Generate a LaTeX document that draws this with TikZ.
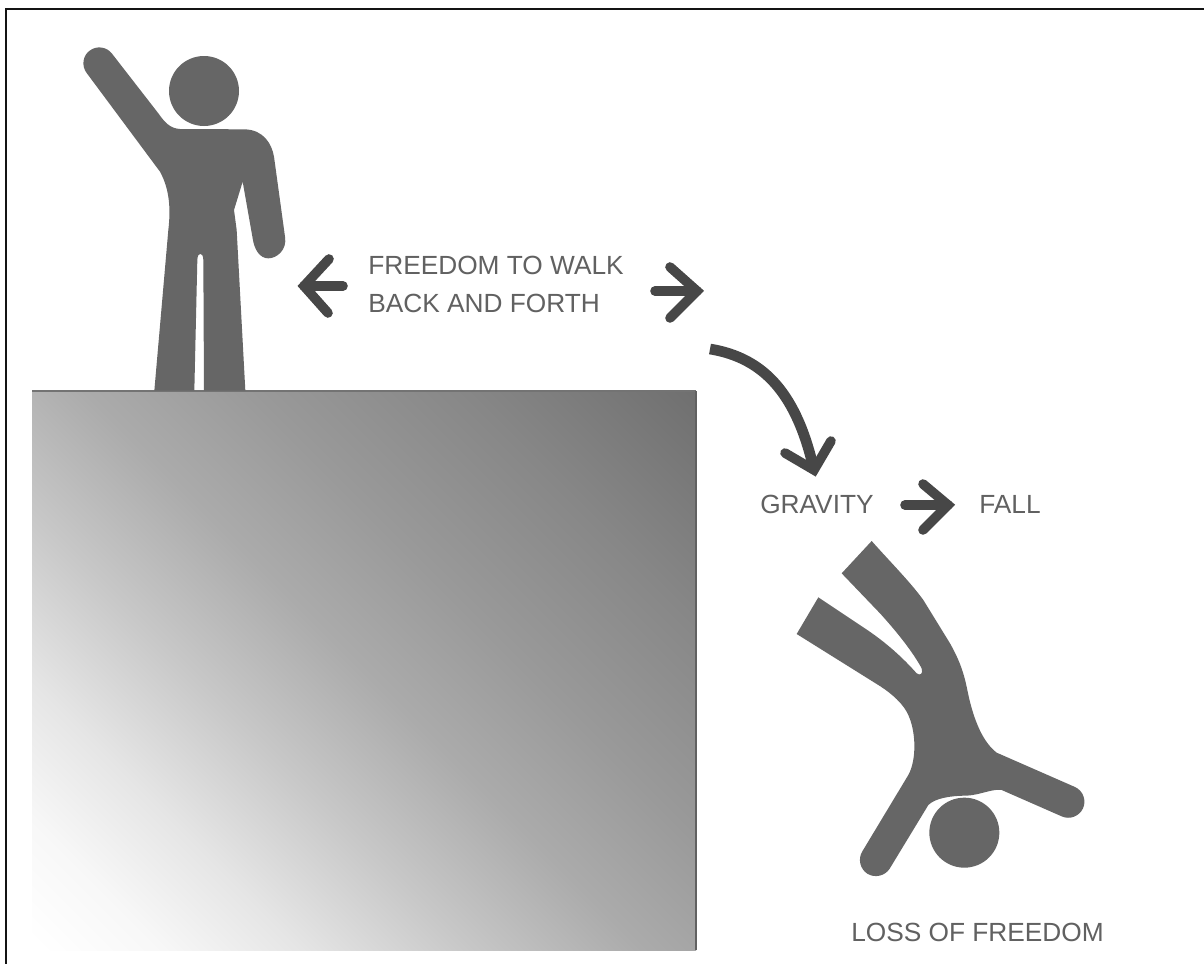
\documentclass[tikz,border=0pt]{standalone}
\usepackage{fontspec}
\setmainfont{Liberation Sans}
\definecolor{figgray}{gray}{0.40}
\definecolor{arrgray}{gray}{0.28}
\definecolor{txtgray}{gray}{0.38}
\pgfdeclareverticalshading{blockfade}{100bp}{
 color(0bp)=(white);
 color(15bp)=(white);
 color(22bp)=(black!3);
 color(30bp)=(black!10);
 color(40bp)=(black!22);
 color(50bp)=(black!33);
 color(60bp)=(black!40);
 color(72bp)=(black!47);
 color(85bp)=(black!56);
 color(100bp)=(black!56)}
\tikzset{
 figshape/.style={fill=figgray,draw=none},
 headdisc/.style={circle,fill=figgray,draw=none,minimum size=52.5pt,inner sep=0pt},
 arrstroke/.style={draw=arrgray,line width=7.2pt,line cap=round,line join=miter},
 labeltext/.style={text=txtgray,font=\fontsize{19.7pt}{24pt}\selectfont,anchor=base west,inner sep=0pt},
 pxgrid/.style={x=0.75pt,y=-0.75pt},
}
\begin{document}
\begin{tikzpicture}[pxgrid]
\useasboundingbox (0,0) rectangle (1204,964);
\fill[white] (0,0) rectangle (1204,964);
% frame: left and top edges only
\draw[black!92,line width=2.1pt] (6,964)--(6,9)--(1204,9);
% block
\shade[shading=blockfade,shading angle=-45] (32,391) rectangle (696,950);
\draw[black!55,line width=1pt] (32,391)--(696,391);
\draw[black!62,line width=1.6pt] (696,391)--(696,950);
% standing figure
\begin{scope}[shift={(60,30)},x=0.25pt,y=-0.25pt]
\node[headdisc] (headA) at (432,183) {};
\fill[figshape] (156,71) -- (295,250) .. controls (315,278) and (330,295) .. (360,297)
 -- (555,298) .. controls (610,300) and (635,340) .. (642,380)
 -- (675,620) .. controls (682,660) and (650,685) .. (625,685)
 .. controls (600,685) and (583,660) .. (578,625)
 -- (548,455) -- (522,540) -- (530,600) -- (556,1082) -- (432,1082) -- (430,690)
 .. controls (430,665) and (412,665) .. (412,690)
 -- (403,1082) -- (283,1082) -- (325,600) .. controls (332,540) and (330,480) .. (300,425)
 -- (80,129) .. controls (64,108) and (68,77) .. (89,62)
 .. controls (110,46) and (140,50) .. (156,71) -- cycle;
\end{scope}
% falling figure
\begin{scope}[shift={(780,530)},x=0.25pt,y=-0.25pt]
\node[headdisc] (headB) at (553,908) {};
\fill[figshape] (275,33) .. controls (330,95) and (390,155) .. (430,210)
 -- (510,340) .. controls (535,385) and (550,420) .. (562,480)
 .. controls (575,545) and (600,630) .. (650,668)
 -- (885,771) .. controls (909,782) and (920,811) .. (909,835)
 .. controls (898,859) and (869,870) .. (845,859)
 -- (665,780) .. controls (640,775) and (600,795) .. (560,797)
 .. controls (510,797) and (465,805) .. (445,825)
 -- (329,1016) .. controls (315,1038) and (284,1045) .. (262,1031)
 .. controls (240,1017) and (233,986) .. (247,964)
 -- (385,735) .. controls (410,690) and (410,600) .. (380,545)
 .. controls (360,510) and (320,480) .. (290,462)
 -- (50,312) -- (115,202) -- (250,292) .. controls (320,338) and (370,385) .. (410,430)
 .. controls (420,438) and (430,432) .. (425,415)
 .. controls (398,365) and (350,305) .. (300,250)
 -- (185,130) -- cycle;
\end{scope}
% labels
\node[labeltext] (l1) at (368,274) {FREEDOM TO WALK};
\node[labeltext] (l2) at (368,312) {BACK AND FORTH};
\node[labeltext] (l3) at (760,513) {GRAVITY};
\node[labeltext] (l4) at (979,513) {FALL};
\node[labeltext] (l5) at (851,941) {LOSS OF FREEDOM};
% arrow anchor points
\coordinate (aT) at (304,286); \coordinate (aS) at (343,286);
\coordinate (aU) at (329,259); \coordinate (aD) at (328,313);
\coordinate (bT) at (697,291); \coordinate (bS) at (655,291);
\coordinate (bU) at (670,267); \coordinate (bD) at (670,318);
\coordinate (cS) at (710,349); \coordinate (cT) at (814,470);
\coordinate (cU) at (785,453); \coordinate (cD) at (831,441);
\coordinate (dT) at (948,505); \coordinate (dS) at (905,505);
\coordinate (dU) at (923,484); \coordinate (dD) at (923,530);
% arrows
\draw[arrstroke] (aS)--(aT);
\draw[arrstroke] (aU)--(aT)--(aD);
\draw[arrstroke] (bS)--(bT);
\draw[arrstroke] (bU)--(bT)--(bD);
\draw[arrstroke,line cap=butt,line width=8pt] (cS) .. controls (765,358) and (797,395) .. (cT);
\draw[arrstroke] (cU)--(cT)--(cD);
\draw[arrstroke] (dS)--(dT);
\draw[arrstroke] (dU)--(dT)--(dD);
\end{tikzpicture}
\end{document}
